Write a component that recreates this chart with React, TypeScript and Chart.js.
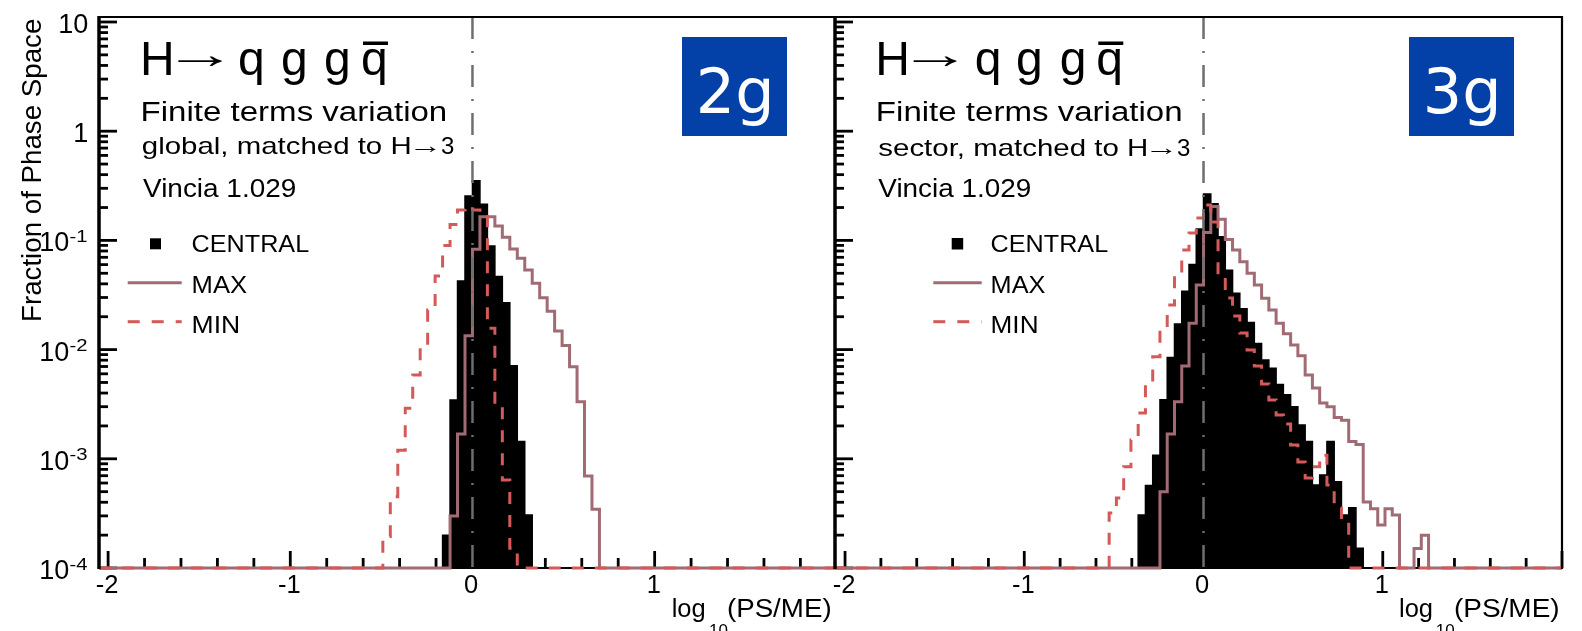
import React, { useEffect, useRef } from 'react';
import { Chart, registerables } from 'chart.js';

Chart.register(...registerables);

const FONT = '"Liberation Sans", Arial, Helvetica, sans-serif';
const BOX_FONT = '"DejaVu Sans", Verdana, sans-serif';

// ---------------- DATA ----------------
// Histogram bins in log10(PS/ME); bin j covers [j*w, (j+1)*w]
const LEFT_BIN_WIDTH = 0.041;
const RIGHT_BIN_WIDTH = 0.0405;

// Left panel: 2g, global, matched to H -> 3
const LEFT_CENTRAL_FIRST_BIN = -4;
const LEFT_CENTRAL = [2.0e-4, 3.45e-3, 0.0425, 0.255, 0.352, 0.214, 0.0889, 0.0466, 0.0269, 7.1e-3, 1.44e-3, 3.05e-4];
const LEFT_MAX_FIRST_BIN = -3;
const LEFT_MAX = [3.0e-4, 1.69e-3, 0.0134, 0.0828, 0.165, 0.165, 0.1355, 0.1067, 0.0834, 0.0686, 0.0536, 0.0405, 0.0299, 0.0224, 0.0148, 0.0109, 6.97e-3, 3.33e-3, 6.95e-4, 3.45e-4];
const LEFT_MIN_FIRST_BIN = -12;
const LEFT_MIN = [1.94e-4, 4.5e-4, 1.2e-3, 2.9e-3, 5.85e-3, 0.011, 0.023, 0.0472, 0.09, 0.14, 0.19, 0.205, 0.19, 0.17, 0.0157, 3.11e-3, 6.4e-4, 1.52e-4];

// Right panel: 3g, sector, matched to H -> 3
const RIGHT_CENTRAL_FIRST_BIN = -9;
const RIGHT_CENTRAL = [3.05e-4, 5.69e-4, 1.08e-3, 3.48e-3, 8.47e-3, 0.0172, 0.0342, 0.06, 0.127, 0.266, 0.217, 0.108, 0.0532, 0.0328, 0.0237, 0.0177, 0.0114, 8.04e-3, 6.75e-3, 4.79e-3, 3.86e-3, 3.0e-3, 2.04e-3, 1.44e-3, 5.75e-4, 7.1e-4, 1.44e-3, 6.17e-4, 3.05e-4, 3.56e-4, 1.52e-4];
const RIGHT_MAX_FIRST_BIN = -6;
const RIGHT_MAX = [5.0e-4, 1.69e-3, 3.33e-3, 7.08e-3, 0.0174, 0.0391, 0.118, 0.204, 0.156, 0.102, 0.0817, 0.0638, 0.05, 0.0391, 0.0295, 0.0231, 0.0174, 0.014, 0.011, 8.77e-3, 5.85e-3, 4.45e-3, 3.24e-3, 3.0e-3, 2.39e-3, 2.25e-3, 1.44e-3, 1.35e-3, 4.02e-4, 3.48e-4, 2.48e-4, 3.48e-4, 3.05e-4, 0, 0, 1.51e-4, 2.0e-4];
const RIGHT_MIN_FIRST_BIN = -13;
const RIGHT_MIN = [3.19e-4, 4.38e-4, 8.47e-4, 1.49e-3, 2.62e-3, 4.94e-3, 8.61e-3, 0.0151, 0.0256, 0.0482, 0.0817, 0.117, 0.16, 0.211, 0.147, 0.0482, 0.0297, 0.0203, 0.0142, 9.9e-3, 7.08e-3, 4.84e-3, 3.45e-3, 2.52e-3, 2.08e-3, 1.34e-3, 9.35e-4, 6.67e-4, 8.47e-4, 1.08e-3, 5.75e-4, 3.54e-4, 2.64e-4];

// Axis ticks / labels
const X_MAJOR_TICKS = [-2, -1, 0, 1, 2];
const X_MINOR_TICKS = [-1.8, -1.6, -1.4, -1.2, -0.8, -0.6, -0.4, -0.2, 0.2, 0.4, 0.6, 0.8, 1.2, 1.4, 1.6, 1.8];
const X_TICK_LABELS = ['-2', '-1', '0', '1'];
const Y_DECADES = [1e-4, 1e-3, 1e-2, 1e-1, 1, 10];
const Y_LABEL_BASE = ['10', '10', '10', '10', '1', '10'];
const Y_LABEL_EXP = ['-4', '-3', '-2', '-1', '', ''];
const Y_MIN = 1e-4;
const Y_MAX = 11.11;

const SERIES_LABELS = ['CENTRAL', 'MAX', 'MIN'];
const Y_TITLE = 'Fraction of Phase Space';

// ---------------- STYLE ----------------
const MAX_COLOR = '#a06b73';
const MIN_COLOR = '#d45a5a';
const BOX_COLOR = '#0341a8';
const ZERO_LINE_COLOR = '#6e6e6e';
const MIN_DASH = [12, 11];
const HIST_LINE_WIDTH = 3;
const TICK_WIDTH = 2.8;

type Txt = { s: string; x: number; y: number; size: number; w?: number };

type PanelCfg = {
  key: string;
  canvasLeft: number;
  canvasWidth: number;
  area: { left: number; right: number; top: number; bottom: number };
  xMin: number;
  xMax: number;
  binWidth: number;
  central: [number, number[]];
  max: [number, number[]];
  min: [number, number[]];
  yLabels: boolean;
  rightFrame: boolean;
  title: { xs: number[]; arrowX: number; arrowW: number; overbar: [number, number] };
  line2: Txt;
  line3: Txt;
  line3Arrow: { x: number; w: number; size: number };
  line3Three: { x: number; size: number };
  line4: Txt;
  legend: { sq: [number, number, number]; textX: number; lineX: [number, number]; widths: number[] };
  box: { x: number; y: number; w: number; h: number; label: string };
  xTitle: { logX: number; subX: number; parenX: number; parenRight: number };
};

const PANELS: PanelCfg[] = [
  {
    key: 'L',
    canvasLeft: 0,
    canvasWidth: 836,
    area: { left: 99, right: 835, top: 17, bottom: 568 },
    xMin: -2.05,
    xMax: 1.99,
    binWidth: LEFT_BIN_WIDTH,
    central: [LEFT_CENTRAL_FIRST_BIN, LEFT_CENTRAL],
    max: [LEFT_MAX_FIRST_BIN, LEFT_MAX],
    min: [LEFT_MIN_FIRST_BIN, LEFT_MIN],
    yLabels: true,
    rightFrame: false,
    title: { xs: [143, 240, 283, 326, 363], arrowX: 178, arrowW: 44, overbar: [363, 388] },
    line2: { s: 'Finite terms variation', x: 143, y: 121, size: 27, w: 303 },
    line3: { s: 'global, matched to H', x: 143, y: 154, size: 24, w: 267 },
    line3Arrow: { x: 414, w: 22, size: 23 },
    line3Three: { x: 441, size: 24 },
    line4: { s: 'Vincia 1.029', x: 143, y: 197, size: 25.5, w: 152 },
    legend: { sq: [150, 238.3, 11], textX: 192.7, lineX: [127.7, 181.7], widths: [116.7, 54, 45.6] },
    box: { x: 682, y: 37, w: 105, h: 99, label: '2g' },
    xTitle: { logX: 672.7, subX: 710, parenX: 728, parenRight: 830 },
  },
  {
    key: 'R',
    canvasLeft: 825,
    canvasWidth: 757,
    area: { left: 835, right: 1562, top: 17, bottom: 568 },
    xMin: -2.056,
    xMax: 2.0,
    binWidth: RIGHT_BIN_WIDTH,
    central: [RIGHT_CENTRAL_FIRST_BIN, RIGHT_CENTRAL],
    max: [RIGHT_MAX_FIRST_BIN, RIGHT_MAX],
    min: [RIGHT_MIN_FIRST_BIN, RIGHT_MIN],
    yLabels: false,
    rightFrame: true,
    title: { xs: [878.3, 976.7, 1018, 1061.7, 1098.3], arrowX: 913.3, arrowW: 43.4, overbar: [1098.3, 1123.3] },
    line2: { s: 'Finite terms variation', x: 878.3, y: 121, size: 27, w: 303 },
    line3: { s: 'sector, matched to H', x: 878.3, y: 156, size: 24, w: 268.3 },
    line3Arrow: { x: 1150, w: 22, size: 23 },
    line3Three: { x: 1177, size: 24 },
    line4: { s: 'Vincia 1.029', x: 878.3, y: 197, size: 25.5, w: 151.7 },
    legend: { sq: [951.7, 238, 11.5], textX: 991.7, lineX: [933.3, 981.7], widths: [116.7, 53.3, 45] },
    box: { x: 1409, y: 37, w: 105, h: 99, label: '3g' },
    xTitle: { logX: 1400, subX: 1436.7, parenX: 1455, parenRight: 1558 },
  },
];

// ---------------- HELPERS ----------------
// empty bins are drawn on the frame floor (axis minimum), as ROOT does
function histPoints(first: number, values: number[], width: number, xMin: number, xMax: number) {
  const kStart = Math.floor(xMin / width) - 1;
  const kEnd = Math.ceil(xMax / width) + 1;
  const pts: { x: number; y: number }[] = [];
  for (let k = kStart; k <= kEnd; k++) {
    const i = k - first;
    const v = i >= 0 && i < values.length ? values[i] : 0;
    pts.push({ x: k * width, y: v > Y_MIN ? v : Y_MIN });
  }
  return pts;
}

function inkText(
  ctx: CanvasRenderingContext2D,
  s: string,
  x: number,
  baseline: number,
  size: number,
  opt: { w?: number; color?: string; family?: string; align?: 'left' | 'center' | 'right' } = {}
) {
  ctx.save();
  ctx.font = `${size}px ${opt.family ?? FONT}`;
  ctx.fillStyle = opt.color ?? '#000';
  ctx.textAlign = 'left';
  ctx.textBaseline = 'alphabetic';
  const m = ctx.measureText(s);
  const iw = m.actualBoundingBoxLeft + m.actualBoundingBoxRight;
  const sx = opt.w ? opt.w / iw : 1;
  const W = iw * sx;
  let inkLeft = x;
  if (opt.align === 'center') inkLeft = x - W / 2;
  else if (opt.align === 'right') inkLeft = x - W;
  ctx.translate(inkLeft + m.actualBoundingBoxLeft * sx, baseline);
  ctx.scale(sx, 1);
  ctx.fillText(s, 0, 0);
  ctx.restore();
  return W;
}

function seg(ctx: CanvasRenderingContext2D, x1: number, y1: number, x2: number, y2: number, w: number, color = '#000') {
  ctx.beginPath();
  ctx.lineWidth = w;
  ctx.strokeStyle = color;
  ctx.moveTo(x1, y1);
  ctx.lineTo(x2, y2);
  ctx.stroke();
}

function makeDecor(p: PanelCfg) {
  const X = (px: number) => px - p.canvasLeft;
  return {
    id: 'decor' + p.key,
    beforeDatasetsDraw(chart: any) {
      const ctx: CanvasRenderingContext2D = chart.ctx;
      const { left, right, bottom } = chart.chartArea;
      const xs = chart.scales.x;
      const ys = chart.scales.y;
      ctx.save();
      ctx.lineCap = 'butt';
      seg(ctx, left, bottom, right, bottom, 2);
      X_MAJOR_TICKS.forEach((v) => {
        const x = xs.getPixelForValue(v);
        if (x < left - 1 || x > right + 1) return;
        seg(ctx, x, bottom, x, bottom - 17, TICK_WIDTH);
      });
      X_MINOR_TICKS.forEach((v) => {
        const x = xs.getPixelForValue(v);
        if (x < left - 1 || x > right + 1) return;
        seg(ctx, x, bottom, x, bottom - 10, TICK_WIDTH);
      });
      Y_DECADES.forEach((d) => {
        for (let m = 1; m <= 9; m++) {
          const v = d * m;
          if (v > Y_MAX) continue;
          const y = ys.getPixelForValue(v);
          seg(ctx, left, y, left + (m === 1 ? 18 : 9), y, TICK_WIDTH);
        }
      });
      ctx.restore();
    },
    afterDatasetsDraw(chart: any) {
      const ctx: CanvasRenderingContext2D = chart.ctx;
      const { left, right, top, bottom } = chart.chartArea;
      const xs = chart.scales.x;
      const ys = chart.scales.y;
      ctx.save();
      ctx.lineCap = 'butt';

      // zero reference line
      const x0 = xs.getPixelForValue(0);
      ctx.setLineDash([22, 12, 2, 12]);
      seg(ctx, x0, top, x0, bottom, 2.5, ZERO_LINE_COLOR);
      ctx.setLineDash([]);

      // frame
      seg(ctx, left - 1, top, right, top, 2.2);
      seg(ctx, left, top - 1, left, bottom + 1, 3.5);
      if (p.rightFrame) seg(ctx, right, top - 1, right, bottom + 1, 2.2);

      // y labels
      if (p.yLabels) {
        Y_DECADES.forEach((d, i) => {
          const y = ys.getPixelForValue(d);
          const exp = Y_LABEL_EXP[i];
          if (exp) {
            inkText(ctx, Y_LABEL_BASE[i], X(68.3), y + 11, 27, { align: 'right' });
            inkText(ctx, exp, X(69.5), y + 1.5, 17, { w: 17.5 });
          } else {
            inkText(ctx, Y_LABEL_BASE[i], X(87.3), y + 11, 27, { align: 'right' });
          }
        });
        ctx.save();
        ctx.translate(X(41), 320);
        ctx.rotate(-Math.PI / 2);
        inkText(ctx, Y_TITLE, 0, 0, 27.5, { w: 301 });
        ctx.restore();
      }

      // x labels
      X_TICK_LABELS.forEach((s, i) => {
        const x = xs.getPixelForValue(X_MAJOR_TICKS[i]);
        if (x < left - 15 || x > right + 5) return;
        inkText(ctx, s, x - 1, 593, 25.5, { align: 'center' });
      });
      inkText(ctx, 'log', X(p.xTitle.logX), 616.7, 25.5);
      inkText(ctx, '10', X(p.xTitle.subX), 635.5, 17);
      inkText(ctx, '(PS/ME)', X(p.xTitle.parenX), 616.7, 25.5, { w: p.xTitle.parenRight - p.xTitle.parenX });

      // title H -> q g g qbar
      const t = p.title;
      const glyphs = ['H', 'q', 'g', 'g', 'q'];
      glyphs.forEach((g, i) => inkText(ctx, g, X(t.xs[i]), 75, 48));
      inkText(ctx, '\u2192', X(t.arrowX), 67.5, 40, { w: t.arrowW });
      ctx.fillStyle = '#000';
      ctx.fillRect(X(t.overbar[0]), 41.5, t.overbar[1] - t.overbar[0], 3.5);

      inkText(ctx, p.line2.s, X(p.line2.x), p.line2.y, p.line2.size, { w: p.line2.w });
      inkText(ctx, p.line3.s, X(p.line3.x), p.line3.y, p.line3.size, { w: p.line3.w });
      inkText(ctx, '\u2192', X(p.line3Arrow.x), p.line3.y - 1, p.line3Arrow.size, { w: p.line3Arrow.w });
      inkText(ctx, '3', X(p.line3Three.x), p.line3.y, p.line3Three.size);
      inkText(ctx, p.line4.s, X(p.line4.x), p.line4.y, p.line4.size, { w: p.line4.w });

      // legend
      const lg = p.legend;
      ctx.fillStyle = '#000';
      ctx.fillRect(X(lg.sq[0]), lg.sq[1], lg.sq[2], lg.sq[2]);
      inkText(ctx, SERIES_LABELS[0], X(lg.textX), 251.7, 23, { w: lg.widths[0] });
      seg(ctx, X(lg.lineX[0]), 282.7, X(lg.lineX[1]), 282.7, HIST_LINE_WIDTH, MAX_COLOR);
      inkText(ctx, SERIES_LABELS[1], X(lg.textX), 293.3, 23, { w: lg.widths[1] });
      ctx.setLineDash([12, 12]);
      seg(ctx, X(lg.lineX[0]), 321.7, X(lg.lineX[1]), 321.7, HIST_LINE_WIDTH, MIN_COLOR);
      ctx.setLineDash([]);
      inkText(ctx, SERIES_LABELS[2], X(lg.textX), 332.7, 23, { w: lg.widths[2] });

      // blue box
      const b = p.box;
      ctx.fillStyle = BOX_COLOR;
      ctx.fillRect(X(b.x), b.y, b.w, b.h);
      inkText(ctx, b.label, X(b.x + b.w / 2), 113, 62, { align: 'center', color: '#fff', family: BOX_FONT });

      ctx.restore();
    },
  };
}

function Panel({ p }: { p: PanelCfg }) {
  const ref = useRef<HTMLCanvasElement>(null);
  useEffect(() => {
    const canvas = ref.current;
    if (!canvas) return;
    const clip = { left: 0, right: 0, top: 0, bottom: 4 };
    const common = { stepped: 'before' as const, pointRadius: 0, tension: 0, clip, borderJoinStyle: 'miter' as const, borderCapStyle: 'butt' as const };
    const chart = new Chart(canvas, {
      type: 'line',
      data: {
        datasets: [
          {
            label: SERIES_LABELS[0],
            data: histPoints(p.central[0], p.central[1], p.binWidth, p.xMin, p.xMax),
            borderColor: '#000',
            backgroundColor: '#000',
            borderWidth: 1.5,
            fill: 'start',
            order: 3,
            ...common,
          },
          {
            label: SERIES_LABELS[1],
            data: histPoints(p.max[0], p.max[1], p.binWidth, p.xMin, p.xMax),
            borderColor: MAX_COLOR,
            borderWidth: HIST_LINE_WIDTH,
            fill: false,
            order: 2,
            ...common,
          },
          {
            label: SERIES_LABELS[2],
            data: histPoints(p.min[0], p.min[1], p.binWidth, p.xMin, p.xMax),
            borderColor: MIN_COLOR,
            borderWidth: HIST_LINE_WIDTH,
            borderDash: MIN_DASH,
            fill: false,
            order: 1,
            ...common,
          },
        ] as any,
      },
      options: {
        animation: false,
        responsive: false,
        events: [],
        layout: {
          padding: {
            left: p.area.left - p.canvasLeft,
            right: p.canvasLeft + p.canvasWidth - p.area.right,
            top: p.area.top,
            bottom: 631 - p.area.bottom,
          },
        },
        plugins: { legend: { display: false }, tooltip: { enabled: false }, title: { display: false } },
        scales: {
          x: { type: 'linear', min: p.xMin, max: p.xMax, display: false },
          y: { type: 'logarithmic', min: Y_MIN, max: Y_MAX, display: false },
        },
      } as any,
      plugins: [makeDecor(p)],
    });
    return () => chart.destroy();
  }, [p]);
  return (
    <canvas
      ref={ref}
      width={p.canvasWidth}
      height={631}
      style={{ position: 'absolute', left: p.canvasLeft, top: 0, width: p.canvasWidth, height: 631 }}
    />
  );
}

export default function App() {
  return (
    <div style={{ position: 'absolute', left: 0, top: 0, width: 1582, height: 631, background: '#fff', overflow: 'hidden' }}>
      {PANELS.map((p) => (
        <Panel key={p.key} p={p} />
      ))}
    </div>
  );
}
